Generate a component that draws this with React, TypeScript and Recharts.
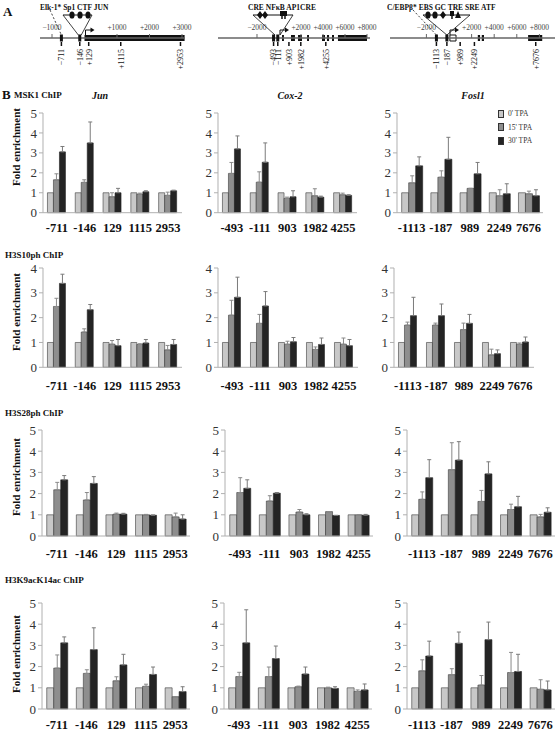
import {
  BarChart,
  Bar,
  XAxis,
  YAxis,
  ErrorBar,
  Legend,
  ScatterChart,
  Scatter,
  ReferenceArea,
  ReferenceLine,
} from "recharts";

const SERIF = "'Liberation Serif', 'Times New Roman', serif";

// ---- panel B data ----
const control = [1, 1, 1, 1, 1];
const junSites = ["-711", "-146", "129", "1115", "2953"];
const coxSites = ["-493", "-111", "903", "1982", "4255"];
const foslSites = ["-1113", "-187", "989", "2249", "7676"];
const ticks5 = [0, 1, 2, 3, 4, 5];
const ticks4 = [0, 1, 2, 3, 4];

const msk1Jun15 = [1.65, 1.52, 0.8, 0.93, 0.87];
const msk1Jun15Err = [0.3, 0.13, 0.2, 0.05, 0.16];
const msk1Jun30 = [3.05, 3.5, 1.0, 1.05, 1.1];
const msk1Jun30Err = [0.27, 1.05, 0.22, 0.05, 0.03];
const msk1Cox15 = [1.97, 1.53, 0.72, 0.85, 0.9];
const msk1Cox15Err = [0.55, 0.52, 0.06, 0.35, 0.08];
const msk1Cox30 = [3.2, 2.53, 0.8, 0.78, 0.87];
const msk1Cox30Err = [0.65, 0.97, 0.3, 0.05, 0.03];
const msk1Fosl15 = [1.5, 1.78, 1.22, 0.85, 0.95];
const msk1Fosl15Err = [0.35, 0.32, 0, 0.3, 0.13];
const msk1Fosl30 = [2.35, 2.68, 1.95, 0.95, 0.85];
const msk1Fosl30Err = [0.45, 1.1, 0.57, 0.5, 0.3];

const s10Jun15 = [2.45, 1.42, 0.93, 0.92, 0.7];
const s10Jun15Err = [0.33, 0.13, 0.15, 0.03, 0.18];
const s10Jun30 = [3.38, 2.32, 0.87, 0.98, 0.92];
const s10Jun30Err = [0.37, 0.21, 0.25, 0.14, 0.2];
const s10Cox15 = [2.1, 1.77, 0.93, 0.72, 0.93];
const s10Cox15Err = [0.6, 0.36, 0.12, 0.1, 0.25];
const s10Cox30 = [2.82, 2.47, 1.03, 0.92, 0.87];
const s10Cox30Err = [0.81, 0.58, 0.17, 0.26, 0.25];
const s10Fosl15 = [1.7, 1.7, 1.52, 0.5, 0.93];
const s10Fosl15Err = [0.12, 0.08, 0.26, 0.23, 0.05];
const s10Fosl30 = [2.08, 2.08, 1.77, 0.55, 1.02];
const s10Fosl30Err = [0.74, 0.47, 0.36, 0.15, 0.2];

const s28Jun15 = [2.18, 1.7, 1.03, 1.0, 0.9];
const s28Jun15Err = [0.35, 0.35, 0.05, 0.02, 0.18];
const s28Jun30 = [2.65, 2.48, 1.03, 0.98, 0.8];
const s28Jun30Err = [0.2, 0.32, 0.04, 0.01, 0.2];
const s28Cox15 = [2.05, 1.65, 1.13, 1.15, 1.0];
const s28Cox15Err = [0.7, 0.25, 0.12, 0, 0];
const s28Cox30 = [2.25, 2.02, 1.0, 0.97, 0.98];
const s28Cox30Err = [0.4, 0.03, 0.05, 0, 0.04];
const s28Fosl15 = [1.73, 3.13, 1.63, 1.25, 0.9];
const s28Fosl15Err = [0.35, 1.27, 0.52, 0.25, 0.12];
const s28Fosl30 = [2.75, 3.58, 2.93, 1.38, 1.12];
const s28Fosl30Err = [0.85, 0.87, 0.57, 0.49, 0.21];

const acJun15 = [1.93, 1.68, 1.33, 1.07, 0.58];
const acJun15Err = [0.62, 0.17, 0.19, 0.1, 0];
const acJun30 = [3.12, 2.8, 2.08, 1.63, 0.82];
const acJun30Err = [0.28, 1.03, 0.5, 0.35, 0.23];
const acCox15 = [1.53, 1.53, 1.05, 1.0, 0.83];
const acCox15Err = [0.2, 0.45, 0.03, 0.03, 0.07];
const acCox30 = [3.12, 2.38, 1.65, 0.97, 0.9];
const acCox30Err = [1.56, 0.59, 0.33, 0.08, 0.28];
const acFosl15 = [1.8, 1.62, 1.13, 1.72, 0.93];
const acFosl15Err = [0.52, 0.28, 0.45, 0.95, 0.45];
const acFosl30 = [2.5, 3.1, 3.27, 1.77, 0.9];
const acFosl30Err = [0.7, 0.53, 0.83, 0.81, 0.42];

// ---- panel A data (bp) ----
const junScale = [-1000, 1000, 2000, 3000];
const junLine = [-1370, 3080];
const junExons = [[0, 3080]];
const junBoxes = [-711, -146];
const junPrimers = [-711, -146, 129, 1115, 2953];
const junMotifs = [-385, -138, 108];
const junMotifKinds = ["oval", "oval", "oval"];

const coxScale = [-2000, 2000, 4000, 6000, 8000];
const coxLine = [-5545, 8273];
const coxExons = [[270, 450], [1090, 1450], [1730, 2090], [2550, 2730], [3910, 4180], [4360, 4550], [4820, 5000], [5360, 8000]];
const coxBoxes = [-493, -111];
const coxPrimers = [-493, -111, 903, 1982, 4255];
const coxMotifs = [-1727, -1273, 273, 545];
const coxMotifKinds = ["diamond", "diamond", "tee", "tee"];

const foslScale = [-2000, 2000, 4000, 6000, 8000];
const foslLine = [-5221, 9381];
const foslExons = [[2550, 2750], [2900, 3100], [7000, 8250]];
const foslBoxes = [-1113, -187];
const foslPrimers = [-1113, -187, 989, 2249, 7676];
const foslMotifs = [-1858, -1239, -531, 265, 796];
const foslMotifKinds = ["oval", "oval", "diamond", "tee", "tri"];

const fmtBp = (v: number) => (v > 0 ? "+" + v : "\u2212" + Math.abs(v));

const MotifShape = (props: any) => {
  const { cx, cy, payload } = props;
  const k = payload.kind;
  if (k === "oval") return <ellipse cx={cx} cy={cy} rx={2.6} ry={3.6} fill="#111" />;
  if (k === "diamond")
    return <polygon points={`${cx},${cy - 4} ${cx + 3},${cy} ${cx},${cy + 4} ${cx - 3},${cy}`} fill="#111" />;
  if (k === "tri")
    return <polygon points={`${cx},${cy - 4} ${cx + 3},${cy + 3} ${cx - 3},${cy + 3}`} fill="#111" />;
  return (
    <g>
      <rect x={cx - 2} y={cy - 4} width={4} height={5} fill="#111" />
      <line x1={cx} x2={cx} y1={cy} y2={cy + 4} stroke="#111" strokeWidth={1.5} />
    </g>
  );
};

const ScaleTick = (props: any) => {
  const { cx, cy, payload } = props;
  return (
    <g>
      <line x1={cx} x2={cx} y1={cy} y2={cy - 4} stroke="#666" />
      <text x={cx} y={cy - 8} textAnchor="middle" fontSize={7.5} fontFamily={SERIF} fill="#444">
        {fmtBp(payload.x)}
      </text>
    </g>
  );
};

const PrimerMark = (props: any) => {
  const { cx, cy, payload } = props;
  return (
    <g>
      <line x1={cx} x2={cx} y1={cy + 4} y2={cy + 8} stroke="#111" strokeWidth={1.5} />
      <text
        transform={`translate(${cx + 2.8},${cy + 11}) rotate(-90)`}
        textAnchor="end"
        fontSize={8}
        fontFamily={SERIF}
        fill="#111"
      >
        {fmtBp(payload.x)}
      </text>
    </g>
  );
};

const SiteBox = (props: any) => <rect x={props.cx - 1.5} y={props.cy - 3.5} width={3} height={7} fill="#111" />;

const TssArrow = (props: any) => {
  const { cx, cy } = props;
  return (
    <g>
      <path d={`M${cx + 1},${cy - 3} L${cx + 1},${cy - 8} L${cx + 7},${cy - 8}`} fill="none" stroke="#111" />
      <polygon points={`${cx + 10},${cy - 8} ${cx + 6},${cy - 10.5} ${cx + 6},${cy - 5.5}`} fill="#111" />
    </g>
  );
};

const FactorText = (props: any) => (
  <text x={props.cx} y={props.cy + 3} fontSize={7.5} fontWeight="bold" fontFamily={SERIF} fill="#111">
    {props.payload.text}
  </text>
);

type GeneMapProps = {
  left: number;
  width: number;
  pad: number;
  domain: [number, number];
  scale: number[];
  line: number[];
  exons: number[][];
  boxes: number[];
  primers: number[];
  motifs: number[];
  kinds: string[];
  inset: number[];
  fan: number[];
  text: string;
  textAt: number;
  dash?: number[];
  openBox?: number[];
};

function GeneMap(g: GeneMapProps) {
  return (
    <div style={{ position: "absolute", left: g.left, top: 0 }}>
      <ScatterChart width={g.width + g.pad} height={75} margin={{ top: 0, right: g.pad, bottom: 0, left: 0 }}>
        <XAxis type="number" dataKey="x" domain={g.domain} hide />
        <YAxis type="number" dataKey="y" domain={[-37, 38]} hide />
        <ReferenceLine
          segment={[{ x: g.line[0], y: 0 }, { x: g.line[1], y: 0 }]}
          stroke="#666"
          strokeWidth={1.5}
        />
        {g.exons.map((e, i) => (
          <ReferenceArea key={i} x1={e[0]} x2={e[1]} y1={-3} y2={3} fill="#111" fillOpacity={1} stroke="none" />
        ))}
        {g.openBox && (
          <ReferenceArea x1={g.openBox[0]} x2={g.openBox[1]} y1={-3} y2={3} fill="#fff" fillOpacity={1} stroke="#111" />
        )}
        <ReferenceLine segment={[{ x: g.inset[0], y: 23 }, { x: g.inset[1], y: 23 }]} stroke="#111" />
        <ReferenceLine segment={[{ x: g.fan[0], y: 3 }, { x: g.inset[0], y: 23 }]} stroke="#111" strokeWidth={0.8} />
        <ReferenceLine segment={[{ x: g.fan[1], y: 3 }, { x: g.inset[1], y: 23 }]} stroke="#111" strokeWidth={0.8} />
        {g.dash && (
          <ReferenceLine
            segment={[{ x: g.dash[0], y: 28 }, { x: g.dash[1], y: 3 }]}
            stroke="#111"
            strokeWidth={0.8}
            strokeDasharray="2 2"
          />
        )}
        <Scatter data={g.scale.map((x) => ({ x, y: 0 }))} shape={ScaleTick} isAnimationActive={false} />
        <Scatter data={g.boxes.map((x) => ({ x, y: 0 }))} shape={SiteBox} isAnimationActive={false} />
        <Scatter data={[{ x: 0, y: 0 }]} shape={TssArrow} isAnimationActive={false} />
        <Scatter data={g.primers.map((x) => ({ x, y: 0 }))} shape={PrimerMark} isAnimationActive={false} />
        <Scatter
          data={g.motifs.map((x, i) => ({ x, y: 23, kind: g.kinds[i] }))}
          shape={MotifShape}
          isAnimationActive={false}
        />
        <Scatter data={[{ x: g.textAt, y: 31, text: g.text }]} shape={FactorText} isAnimationActive={false} />
      </ScatterChart>
    </div>
  );
}

// ---- panel B ----
const renderLegend = (props: any) => (
  <div style={{ fontFamily: SERIF, fontSize: 7.5, color: "#333" }}>
    {(props.payload || []).map((entry: any) => (
      <div key={entry.value} style={{ display: "flex", alignItems: "center", height: 13.5 }}>
        <span
          style={{
            display: "inline-block",
            width: 6,
            height: 8,
            background: entry.color,
            border: "1px solid #333",
            boxSizing: "border-box",
            marginRight: 4,
          }}
        />
        {entry.value}
      </div>
    ))}
  </div>
);

type PanelProps = {
  left: number;
  right: number;
  yTop: number;
  yZero: number;
  ticks: number[];
  gap: number;
  sites: string[];
  m15: number[];
  e15: number[];
  m30: number[];
  e30: number[];
  legend?: boolean;
};

function Panel(p: PanelProps) {
  const data = p.sites.map((site, i) => ({
    site,
    t0: control[i],
    t15: p.m15[i],
    e15: [0, p.e15[i]],
    t30: p.m30[i],
    e30: [0, p.e30[i]],
  }));
  const axisW = 36;
  const top = 8;
  const xh = 30;
  const width = axisW + (p.right - p.left) + 4;
  const height = top + (p.yZero - p.yTop) + xh;
  const max = p.ticks[p.ticks.length - 1];
  return (
    <div style={{ position: "absolute", left: p.left - axisW, top: p.yTop - top }}>
      <BarChart
        width={width}
        height={height}
        data={data}
        margin={{ top, right: 4, bottom: 0, left: 0 }}
        barCategoryGap="16%"
        barGap={0}
      >
        <XAxis
          dataKey="site"
          interval={0}
          height={xh}
          tickLine={false}
          tickSize={0}
          tickMargin={p.gap}
          axisLine={{ stroke: "#b0b0b0" }}
          tick={{ fill: "#111", fontSize: 12.5, fontWeight: "bold", fontFamily: SERIF }}
        />
        <YAxis
          width={axisW}
          domain={[0, max]}
          ticks={p.ticks}
          interval={0}
          tickSize={4}
          tickMargin={2}
          axisLine={{ stroke: "#b0b0b0" }}
          tickLine={{ stroke: "#b0b0b0" }}
          tick={{ fill: "#333", fontSize: 13, fontFamily: SERIF }}
        />
        {p.legend && (
          <Legend
            layout="vertical"
            align="center"
            verticalAlign="middle"
            content={renderLegend}
            wrapperStyle={{ left: 137, top: 2, width: 50 }}
          />
        )}
        <Bar dataKey="t0" name="0' TPA" fill="#c8c8c8" stroke="#3a3a3a" strokeWidth={0.6} isAnimationActive={false} />
        <Bar dataKey="t15" name="15' TPA" fill="#8e8e8e" stroke="#3a3a3a" strokeWidth={0.6} isAnimationActive={false}>
          <ErrorBar dataKey="e15" width={2} stroke="#8a8a8a" strokeWidth={1} isAnimationActive={false} />
        </Bar>
        <Bar dataKey="t30" name="30' TPA" fill="#242424" stroke="#222" strokeWidth={0.6} isAnimationActive={false}>
          <ErrorBar dataKey="e30" width={2} stroke="#7a7a7a" strokeWidth={1} isAnimationActive={false} />
        </Bar>
      </BarChart>
    </div>
  );
}

const txt = (left: number, top: number, text: string, style: any = {}) => (
  <div
    style={{
      position: "absolute",
      left,
      top,
      fontFamily: SERIF,
      fontWeight: "bold",
      fontSize: 9,
      whiteSpace: "nowrap",
      lineHeight: 1,
      color: "#111",
      ...style,
    }}
  >
    {text}
  </div>
);

const yLabel = (cy: number) => (
  <div
    style={{
      position: "absolute",
      left: 16,
      top: cy,
      transform: "translate(-50%, -50%) rotate(-90deg)",
      fontFamily: SERIF,
      fontWeight: "bold",
      fontSize: 11,
      whiteSpace: "nowrap",
      color: "#111",
    }}
  >
    Fold enrichment
  </div>
);

export default function App() {
  return (
    <div
      style={{
        position: "absolute",
        left: 0,
        top: 0,
        width: 555,
        height: 731,
        overflow: "hidden",
        background: "#fff",
      }}
    >
      {txt(3, 5, "A", { fontSize: 13 })}
      <GeneMap
        left={20}
        width={170}
        pad={18}
        domain={[-1985, 3246]}
        scale={junScale}
        line={junLine}
        exons={junExons}
        boxes={junBoxes}
        primers={junPrimers}
        motifs={junMotifs}
        kinds={junMotifKinds}
        inset={[-662, 231]}
        fan={[-190, -100]}
        text="Elk-1* Sp1 CTF JUN"
        textAt={-1369}
        dash={[-1062, -711]}
      />
      <GeneMap
        left={195}
        width={180}
        pad={12}
        domain={[-7636, 8727]}
        scale={coxScale}
        line={coxLine}
        exons={coxExons}
        boxes={coxBoxes}
        primers={coxPrimers}
        motifs={coxMotifs}
        kinds={coxMotifKinds}
        inset={[-2364, 1273]}
        fan={[-364, 91]}
        text="CRE NFκB AP1CRE"
        textAt={-2818}
      />
      <GeneMap
        left={380}
        width={175}
        pad={0}
        domain={[-6106, 9381]}
        scale={foslScale}
        line={foslLine}
        exons={foslExons}
        boxes={foslBoxes}
        primers={foslPrimers}
        motifs={foslMotifs}
        kinds={foslMotifKinds}
        inset={[-2301, 1858]}
        fan={[-187, -187]}
        text="C/EBPβ* EBS GC TRE SRE ATF"
        textAt={-5487}
        dash={[-3186, -1113]}
        openBox={[80, 620]}
      />

      {txt(2, 88, "B", { fontSize: 13 })}
      {txt(14, 91, "MSK1 ChIP")}
      {txt(100, 91, "Jun", { fontStyle: "italic", fontSize: 10, transform: "translateX(-50%)" })}
      {txt(290, 91, "Cox-2", { fontStyle: "italic", fontSize: 10, transform: "translateX(-50%)" })}
      {txt(473, 91, "Fosl1", { fontStyle: "italic", fontSize: 10, transform: "translateX(-50%)" })}
      {yLabel(147)}
      <Panel left={43} right={182} yTop={113} yZero={212.7} ticks={ticks5} gap={10} sites={junSites}
        m15={msk1Jun15} e15={msk1Jun15Err} m30={msk1Jun30} e30={msk1Jun30Err} />
      <Panel left={218} right={357} yTop={113} yZero={212.7} ticks={ticks5} gap={10} sites={coxSites}
        m15={msk1Cox15} e15={msk1Cox15Err} m30={msk1Cox30} e30={msk1Cox30Err} />
      <Panel left={397} right={543} yTop={113} yZero={212.7} ticks={ticks5} gap={10} sites={foslSites}
        m15={msk1Fosl15} e15={msk1Fosl15Err} m30={msk1Fosl30} e30={msk1Fosl30Err} legend />

      {txt(5, 251, "H3S10ph ChIP")}
      {yLabel(312)}
      <Panel left={43} right={182} yTop={268} yZero={367.3} ticks={ticks4} gap={14} sites={junSites}
        m15={s10Jun15} e15={s10Jun15Err} m30={s10Jun30} e30={s10Jun30Err} />
      <Panel left={218} right={358} yTop={268} yZero={367.3} ticks={ticks4} gap={14} sites={coxSites}
        m15={s10Cox15} e15={s10Cox15Err} m30={s10Cox30} e30={s10Cox30Err} />
      <Panel left={394} right={534} yTop={268} yZero={367.3} ticks={ticks4} gap={14} sites={foslSites}
        m15={s10Fosl15} e15={s10Fosl15Err} m30={s10Fosl30} e30={s10Fosl30Err} />

      {txt(5, 409, "H3S28ph ChIP")}
      {yLabel(477)}
      <Panel left={42} right={190} yTop={430} yZero={536} ticks={ticks5} gap={13} sites={junSites}
        m15={s28Jun15} e15={s28Jun15Err} m30={s28Jun30} e30={s28Jun30Err} />
      <Panel left={225} right={373} yTop={430} yZero={536} ticks={ticks5} gap={13} sites={coxSites}
        m15={s28Cox15} e15={s28Cox15Err} m30={s28Cox30} e30={s28Cox30Err} />
      <Panel left={407} right={555} yTop={430} yZero={536} ticks={ticks5} gap={13} sites={foslSites}
        m15={s28Fosl15} e15={s28Fosl15Err} m30={s28Fosl30} e30={s28Fosl30Err} />

      {txt(5, 576, "H3K9acK14ac ChIP")}
      {yLabel(654)}
      <Panel left={42} right={190} yTop={603.3} yZero={709.3} ticks={ticks5} gap={11} sites={junSites}
        m15={acJun15} e15={acJun15Err} m30={acJun30} e30={acJun30Err} />
      <Panel left={224} right={372} yTop={603.3} yZero={709.3} ticks={ticks5} gap={11} sites={coxSites}
        m15={acCox15} e15={acCox15Err} m30={acCox30} e30={acCox30Err} />
      <Panel left={407} right={555} yTop={603.3} yZero={709.3} ticks={ticks5} gap={11} sites={foslSites}
        m15={acFosl15} e15={acFosl15Err} m30={acFosl30} e30={acFosl30Err} />
    </div>
  );
}
